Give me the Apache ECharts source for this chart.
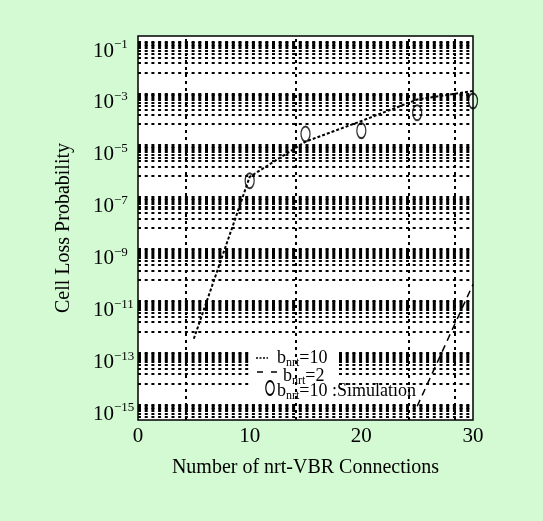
<!DOCTYPE html>
<html><head><meta charset="utf-8">
<script src="https://cdn.jsdelivr.net/npm/echarts@6/dist/echarts.min.js"></script>
<style>html,body{margin:0;padding:0;background:#d3fad3;} #c{width:543px;height:521px;}</style>
</head><body><div id="c"></div>
<script>
// ---- data ----
const xTicks = [0, 10, 20, 30];
const yTickExponents = [-15, -13, -11, -9, -7, -5, -3, -1];
const xAxisTitle = 'Number of nrt-VBR Connections';
const yAxisTitle = 'Cell Loss Probability';
const legendLabels = ['=10', '=2', '=10 :Simulation'];
const b10X = [5, 10, 15, 20, 25, 30];
const b10P = [8e-13, 1.4e-6, 3.2e-5, 2.0e-4, 1.35e-3, 2.9e-3];
const b2X = [25, 30];
const b2P = [2e-15, 1e-10];
const simX = [10, 15, 20, 25, 30];
const simP = [1.0e-6, 6.3e-5, 8.5e-5, 4.2e-4, 1.2e-3];
const vGridX = [4.3, 14.15, 24.27, 28.39];

// ---- layout / style ----
const FONT = 'Liberation Serif';
const yMin = -15.23, yMax = -0.42;
// legend box (data coords) where horizontal grid is blanked
const legendBox = { x0: 10.12, x1: 18.0, yTop: -12.49, yBottom: -14.5 };
const hGridData = [];
yTickExponents.forEach(function (n) {
  const top = n + 0.375;
  for (let k = 1; k <= 10; k++) {
    const v = top - 1.196 * (1 - Math.log10(k));
    if (v <= yMin || v >= yMax) continue;
    if (v < legendBox.yTop && v > legendBox.yBottom) {
      hGridData.push([{ coord: [xTicks[0], v] }, { coord: [legendBox.x0, v] }]);
      hGridData.push([{ coord: [legendBox.x1, v] }, { coord: [xTicks[xTicks.length - 1], v] }]);
    } else {
      hGridData.push({ yAxis: v });
    }
  }
});
const pairs = (xs, ps) => xs.map((x, i) => [x, Math.log10(ps[i])]);

const chart = echarts.init(document.getElementById('c'));
const richMain = {
  b: { fontFamily: FONT, fontSize: 18, fill: '#000' },
  s: { fontFamily: FONT, fontSize: 12, fill: '#000', padding: [9, 0, 0, 0] }
};
chart.setOption({
  animation: false,
  backgroundColor: '#d3fad3',
  grid: { left: 138, right: 70, top: 36, bottom: 101, show: true,
          backgroundColor: '#fff', borderColor: '#000', borderWidth: 1.5 },
  xAxis: {
    type: 'value', min: xTicks[0], max: xTicks[xTicks.length - 1], interval: 10,
    axisLine: { show: false }, axisTick: { show: false }, splitLine: { show: false },
    axisLabel: { fontFamily: FONT, fontSize: 21, color: '#000', margin: 6 },
    name: xAxisTitle, nameLocation: 'middle', nameGap: 38,
    nameTextStyle: { fontFamily: FONT, fontSize: 20, color: '#000' }
  },
  yAxis: {
    type: 'value', min: yMin, max: yMax,
    axisLine: { show: false }, axisTick: { show: false }, splitLine: { show: false },
    axisLabel: {
      customValues: yTickExponents, align: 'left', margin: 45,
      formatter: v => '{b|10}{s|\u2212' + Math.abs(Math.round(v)) + '}',
      rich: {
        b: { fontFamily: FONT, fontSize: 21, color: '#000' },
        s: { fontFamily: FONT, fontSize: 13, color: '#000', padding: [0, 0, 12, 0] }
      }
    },
    name: yAxisTitle, nameLocation: 'middle', nameGap: 64,
    nameTextStyle: { fontFamily: FONT, fontSize: 20, color: '#000' }
  },
  series: [
    { type: 'line', data: [], z: 1, silent: true,
      markLine: { silent: true, symbol: ['none', 'none'], label: { show: false },
        lineStyle: { color: '#000', width: 2, type: [3, 3.7], opacity: 1 },
        emphasis: { disabled: true },
        data: hGridData } },
    { type: 'line', data: [], z: 3, silent: true,
      markLine: { silent: true, symbol: ['none', 'none'], label: { show: false },
        lineStyle: { color: '#000', width: 2, type: [3, 4], opacity: 1 },
        emphasis: { disabled: true },
        data: vGridX.map(v => ({ xAxis: v })) } },
    { name: 'b10', type: 'line', z: 4, data: pairs(b10X, b10P), symbol: 'none',
      lineStyle: { color: '#000', width: 2, type: [3, 2] } },
    { name: 'b2', type: 'line', z: 4, data: pairs(b2X, b2P), symbol: 'none',
      lineStyle: { color: '#000', width: 1.5, type: [7, 5] } },
    { name: 'sim', type: 'scatter', z: 5, data: pairs(simX, simP), symbol: 'circle',
      symbolSize: [9, 15],
      itemStyle: { color: 'rgba(0,0,0,0)', borderColor: '#000', borderWidth: 1.6 } }
  ],
  graphic: { elements: [
    { type: 'line', z: 10, shape: { x1: 256, y1: 358, x2: 268, y2: 358 },
      style: { stroke: '#000', lineWidth: 1.5, lineDash: [2, 1.5] } },
    { type: 'text', z: 10, x: 277, y: 358,
      style: { text: '{b|b}{s|nrt}{b|' + legendLabels[0] + '}', rich: richMain, verticalAlign: 'middle' } },
    { type: 'line', z: 10, shape: { x1: 257, y1: 372, x2: 277, y2: 372 },
      style: { stroke: '#000', lineWidth: 1.5, lineDash: [6, 8] } },
    { type: 'text', z: 10, x: 283, y: 376,
      style: { text: '{b|b}{s|nrt}{b|' + legendLabels[1] + '}', rich: richMain, verticalAlign: 'middle' } },
    { type: 'circle', z: 10, x: 270, y: 388, scaleX: 0.6, shape: { cx: 0, cy: 0, r: 7 },
      style: { fill: 'none', stroke: '#000', lineWidth: 2 } },
    { type: 'text', z: 10, x: 277, y: 391,
      style: { text: '{b|b}{s|nrt}{b|' + legendLabels[2] + '}', rich: richMain, verticalAlign: 'middle' } }
  ] }
});
</script></body></html>
